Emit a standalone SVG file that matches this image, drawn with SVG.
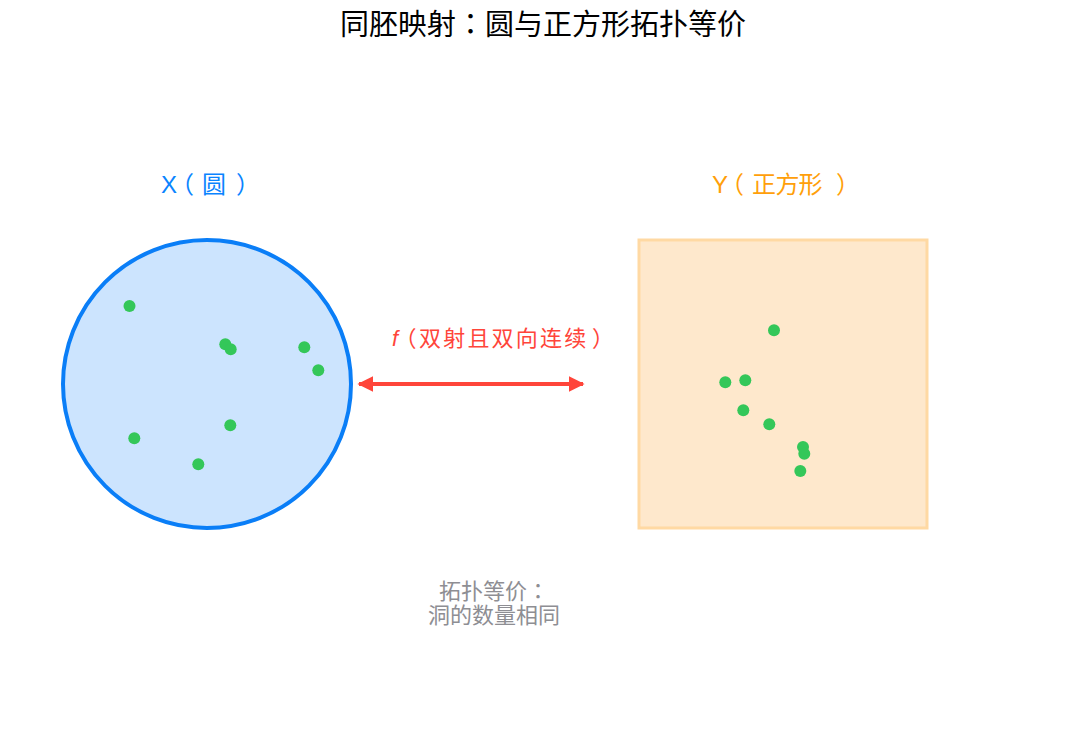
<svg xmlns="http://www.w3.org/2000/svg" width="1085" height="735" viewBox="0 0 1085 735">
<style>
text{font-family:"Liberation Sans","Noto Sans CJK TC",sans-serif}
.title{font-size:29px;fill:#000;text-anchor:middle}
.lbl{font-size:24px}
.hw{font-feature-settings:"halt" 1}
.pt{fill:#34C759}
.note{font-size:22px;fill:#8E8E93;text-anchor:middle}
</style>
<defs>
<marker id="ah" viewBox="0 0 10 10" refX="9" refY="5" markerWidth="4" markerHeight="4" orient="auto-start-reverse" markerUnits="strokeWidth">
<path d="M0,0 L10,5 L0,10 z" fill="#FF453A"/>
</marker>
</defs>
<rect width="1085" height="735" fill="#fff"/>
<text class="title" x="543" y="35">同胚映射：圆与正方形拓扑等价</text>
<g id="X">
<circle cx="207" cy="384" r="144" fill="#CCE4FE" stroke="#0A7EF7" stroke-width="4"/>
<text class="lbl hw" y="193" fill="#0A84FF"><tspan x="161">X</tspan><tspan x="182">（</tspan><tspan x="202">圆</tspan><tspan x="236">）</tspan></text>
<circle class="pt" cx="129.5" cy="306" r="6"/>
<circle class="pt" cx="225.3" cy="344.3" r="6"/>
<circle class="pt" cx="230.7" cy="349.3" r="6"/>
<circle class="pt" cx="304.3" cy="347.3" r="6"/>
<circle class="pt" cx="318.3" cy="370.3" r="6"/>
<circle class="pt" cx="230.3" cy="425.3" r="6"/>
<circle class="pt" cx="134.3" cy="438.3" r="6"/>
<circle class="pt" cx="198.3" cy="464.3" r="6"/>
</g>
<g id="Y">
<rect x="639" y="240" width="288" height="288" fill="#FEE8CC" stroke="#FFD9A3" stroke-width="3"/>
<text class="lbl hw" y="193" fill="#FF9F0A"><tspan x="712">Y</tspan><tspan x="732">（</tspan><tspan x="752">正</tspan><tspan x="775.5">方</tspan><tspan x="798.5">形</tspan><tspan x="836">）</tspan></text>
<circle class="pt" cx="774" cy="330.3" r="6"/>
<circle class="pt" cx="725.3" cy="382.3" r="6"/>
<circle class="pt" cx="745.3" cy="380.3" r="6"/>
<circle class="pt" cx="743.3" cy="410.3" r="6"/>
<circle class="pt" cx="769.3" cy="424.3" r="6"/>
<circle class="pt" cx="803" cy="447" r="6"/>
<circle class="pt" cx="804.3" cy="453.7" r="6"/>
<circle class="pt" cx="800.3" cy="471" r="6"/>
</g>
<g id="connectors">
<line x1="359" y1="384" x2="583" y2="384" stroke="#FF453A" stroke-width="4" marker-start="url(#ah)" marker-end="url(#ah)"/>
<text class="hw" y="346" font-size="22" fill="#FF453A"><tspan x="392" font-style="italic">f</tspan><tspan x="405.5">（</tspan><tspan x="419">双</tspan><tspan x="443.2">射</tspan><tspan x="467.4">且</tspan><tspan x="491.6">双</tspan><tspan x="515.8">向</tspan><tspan x="540">连</tspan><tspan x="564.2">续</tspan><tspan x="592">）</tspan></text>
</g>
<g id="note">
<text class="note" x="494" y="599">拓扑等价：</text>
<text class="note" x="494" y="623">洞的数量相同</text>
</g>
</svg>
